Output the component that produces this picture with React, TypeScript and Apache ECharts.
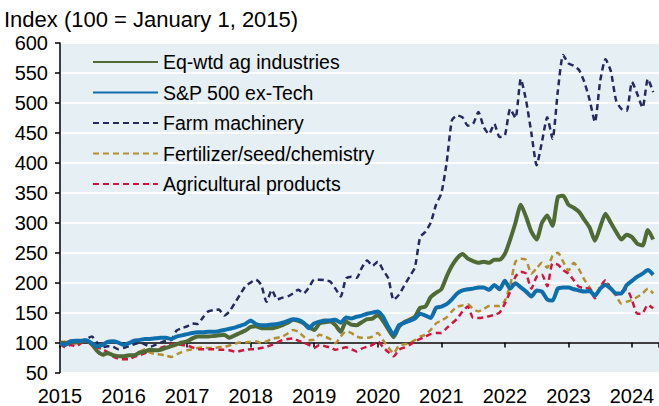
import React, { useEffect, useRef } from "react";
import * as echarts from "echarts";

// Monthly index values, Jan 2015 .. May 2024 (100 = January 1, 2015)
const startYear = 2015;

const eqWtdAg = [
  100, 99, 101, 100, 102, 103, 97, 86, 80, 82, 79, 77,
  77, 79, 79, 83, 85, 88, 87, 88, 91, 94, 97, 100,
  102, 107, 110, 110, 110, 111, 112, 113, 108, 112, 116, 120,
  126, 127, 124, 124, 124, 126, 129, 133, 138, 136, 132, 126,
  121, 132, 134, 135, 129, 118, 135, 130, 129, 134, 139, 140,
  146, 136, 122, 109, 126, 134, 138, 143, 158, 160, 176, 183,
  189, 210, 228, 241, 248, 240, 236, 233, 235, 233, 238, 238,
  248, 272, 300, 330, 310, 285, 272, 300, 312, 295, 343, 345,
  330, 325, 318, 305, 292, 270, 293, 315, 300, 285, 272, 280,
  276, 265, 262, 288, 272,
];

const spExTech = [
  99, 96, 102, 103, 103, 104, 99, 94, 96, 101, 102, 100,
  96, 99, 103, 104, 106, 106, 107, 108, 108, 106, 110, 112,
  114, 116, 117, 117, 118, 118, 119, 121, 123, 125, 128, 131,
  137, 131, 129, 129, 130, 131, 133, 136, 139, 138, 133, 124,
  132, 135, 137, 137, 138, 133, 142, 140, 143, 145, 148, 150,
  152, 143, 126, 113, 129, 133, 136, 140, 148, 145, 141, 158,
  160, 164, 172, 182, 187, 189, 190, 192, 192, 188, 196, 189,
  203, 190, 199, 192, 185, 177, 187, 185, 172, 170, 190, 192,
  192, 189, 187, 185, 186, 178, 190, 196, 190, 182, 182, 196,
  203, 210, 215, 221, 213,
];

const farmMachinery = [
  100, 99, 103, 101, 103, 106, 110, 100, 92, 94, 93, 89,
  91, 94, 97, 100, 97, 93, 96, 100, 103, 104, 120, 124,
  127, 132, 131, 142, 152, 154, 155, 145, 152, 166, 180, 194,
  200, 205, 196, 168, 188, 172, 175, 177, 182, 188, 182, 192,
  205, 205, 204, 202, 190, 177, 207, 210, 208, 225, 237, 228,
  235, 221, 207, 171, 180, 195, 210, 225, 276, 285, 300, 330,
  349, 400, 471, 479, 476, 462, 465, 485, 460, 448, 465, 443,
  446, 490, 475, 540, 504, 450, 396, 435, 476, 440, 520, 580,
  566, 562, 555, 535, 505, 468, 537, 573, 553, 504, 490, 487,
  535, 515, 492, 540, 518,
];

const fertilizerSeedChem = [
  100, 102, 104, 102, 102, 103, 97, 85, 77, 82, 79, 76,
  75, 74, 78, 84, 89, 83, 81, 80, 78, 76, 80, 84,
  87, 89, 91, 92, 91, 91, 92, 93, 95, 98, 100, 100,
  101, 102, 99, 102, 106, 108, 110, 115, 121, 118, 110, 104,
  105, 113, 110, 106, 99, 110, 119, 116, 110, 108, 108, 110,
  116, 104, 92, 82, 95, 97, 99, 104, 110, 113, 121, 132,
  137, 142, 152, 160, 162, 164, 156, 152, 156, 161, 161, 161,
  170, 196, 235, 240, 238, 215, 224, 233, 225, 245, 250, 235,
  220, 233, 222, 205, 192, 180, 190, 202, 190, 178, 165, 168,
  171, 176, 182, 190, 182,
];

const agProducts = [
  98, 92, 96, 94, 99, 103, 96, 92, 89, 84, 77, 73,
  72, 72, 76, 79, 82, 86, 88, 91, 94, 97, 98, 96,
  95, 92, 89, 89, 89, 89, 88, 88, 87, 85, 86, 88,
  89, 89, 91, 93, 96, 100, 104, 106, 107, 103, 100, 96,
  91, 96, 94, 92, 88, 90, 92, 89, 85, 90, 93, 96,
  102, 92, 84, 77, 88, 92, 96, 102, 106, 110, 114, 116,
  116, 124, 132, 140, 152, 160, 141, 141, 142, 144, 146, 150,
  165, 185, 210, 218, 215, 190, 210, 213, 194, 232, 230, 221,
  215, 204, 193, 191, 190, 174, 193, 204, 190, 180, 185, 189,
  171, 148, 149, 163, 157,
];

const seriesNames = [
  "Eq-wtd ag industries",
  "S&P 500 ex-Tech",
  "Farm machinery",
  "Fertilizer/seed/chemistry",
  "Agricultural products",
];

const yearTicks = [2015, 2016, 2017, 2018, 2019, 2020, 2021, 2022, 2023, 2024];

const FONT = "'Liberation Sans', Arial, Helvetica, sans-serif";

function toPairs(values: number[]) {
  return values.map((v, i) => [startYear + i / 12, v]);
}

export default function App() {
  const ref = useRef<HTMLDivElement>(null);

  useEffect(() => {
    if (!ref.current) return;
    const chart = echarts.init(ref.current, undefined, { renderer: "svg" });

    const xMin = yearTicks[0];
    const xMax = 2024.425;

    const solid = (name: string, values: number[], color: string, z: number) => ({
      name,
      type: "line",
      data: toPairs(values),
      xAxisIndex: 0,
      symbol: "none",
      smooth: 0.2,
      z,
      lineStyle: { color, width: 4 },
      itemStyle: { color },
    });
    const dashed = (name: string, values: number[], color: string, z: number) => ({
      name,
      type: "line",
      data: toPairs(values),
      xAxisIndex: 0,
      symbol: "none",
      smooth: 0.2,
      z,
      lineStyle: { color, width: 2.5, type: [6, 4] },
      itemStyle: { color },
    });

    chart.setOption({
      animation: false,
      backgroundColor: "#ffffff",
      textStyle: { fontFamily: FONT },
      title: {
        text: "Index (100 = January 1, 2015)",
        left: 4,
        top: 6,
        padding: [0, 0, 0, 0],
        textStyle: {
          fontFamily: FONT,
          fontSize: 22,
          lineHeight: 26,
          fontWeight: "normal",
          color: "#000",
        },
      },
      legend: {
        orient: "vertical",
        left: 92,
        top: 52,
        padding: 0,
        itemWidth: 65,
        itemHeight: 20,
        itemGap: 10.5,
        data: seriesNames,
        itemStyle: {
          opacity: 0,
          color: "rgba(0,0,0,0)",
          borderColor: "rgba(0,0,0,0)",
          borderWidth: 0,
        },
        textStyle: { fontFamily: FONT, fontSize: 19.5, color: "#000" },
      },
      grid: {
        left: 60,
        right: 0,
        top: 43,
        bottom: 33.5,
        show: true,
        backgroundColor: "#e6eff3",
        borderWidth: 0,
      },
      xAxis: [
        {
          type: "value",
          min: xMin,
          max: xMax,
          interval: 1,
          axisLine: { show: false },
          axisTick: { show: false },
          splitLine: { show: false },
          axisLabel: {
            margin: 13,
            fontFamily: FONT,
            fontSize: 20,
            color: "#000",
            formatter: (v: number) => (yearTicks.includes(v) ? String(v) : ""),
            showMaxLabel: false,
          },
        },
        {
          type: "value",
          position: "bottom",
          offset: -29.9,
          min: xMin,
          max: xMax,
          interval: 1,
          axisLine: { show: true, onZero: false, lineStyle: { color: "#000", width: 1.5 } },
          axisTick: { show: true, length: 5, lineStyle: { color: "#000", width: 1.5 } },
          axisLabel: { show: false },
          splitLine: { show: false },
        },
      ],
      yAxis: {
        type: "value",
        min: 50,
        max: 600,
        interval: 50,
        axisLine: { show: true, lineStyle: { color: "#000", width: 1.5 } },
        axisTick: { show: true, length: 5, lineStyle: { color: "#000", width: 1.5 } },
        splitLine: { show: true, lineStyle: { color: "#ffffff", width: 2 } },
        axisLabel: { margin: 12, fontFamily: FONT, fontSize: 20, color: "#000" },
      },
      series: [
        dashed(seriesNames[2], farmMachinery, "#252a5e", 2),
        dashed(seriesNames[3], fertilizerSeedChem, "#b38f2f", 2),
        dashed(seriesNames[4], agProducts, "#d0163f", 2),
        solid(seriesNames[0], eqWtdAg, "#4f6a34", 3),
        solid(seriesNames[1], spExTech, "#0f6fad", 4),
      ],
    });

    return () => chart.dispose();
  }, []);

  return (
    <div
      ref={ref}
      style={{ position: "fixed", left: 0, top: 0, width: 659, height: 406, background: "#fff" }}
    />
  );
}
